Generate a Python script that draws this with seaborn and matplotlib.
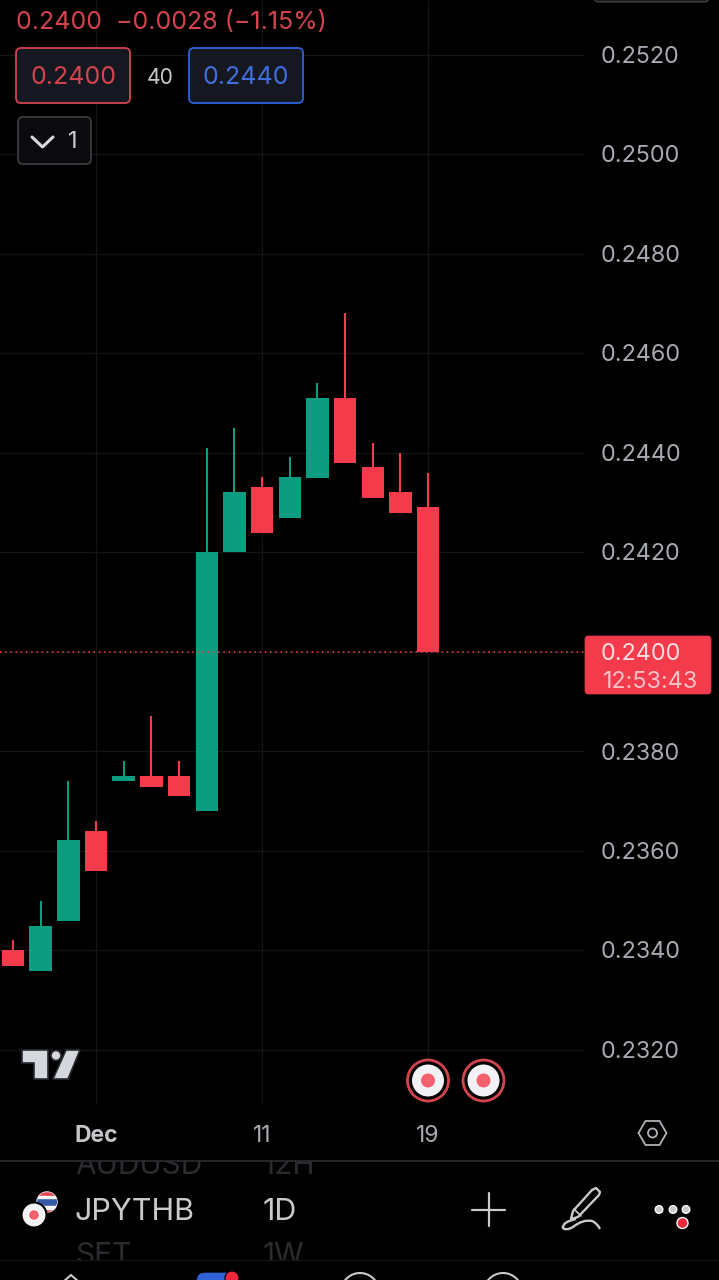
import matplotlib

matplotlib.use("Agg")
import matplotlib.pyplot as plt
import pandas as pd
import seaborn as sns
from matplotlib.patches import Circle, FancyBboxPatch, PathPatch, Polygon, Rectangle
from matplotlib.path import Path

# candles
opens = [0.23402, 0.23359, 0.23460, 0.23641, 0.23740, 0.23751, 0.23751, 0.23680,
         0.24200, 0.24331, 0.24269, 0.24350, 0.24511, 0.24371, 0.24321, 0.24291]
highs = [0.23421, 0.23500, 0.23741, 0.23661, 0.23781, 0.23871, 0.23781, 0.24411,
         0.24450, 0.24352, 0.24391, 0.24540, 0.24681, 0.24421, 0.24401, 0.24360]
lows = [0.23369, 0.23359, 0.23460, 0.23560, 0.23740, 0.23729, 0.23710, 0.23680,
        0.24200, 0.24240, 0.24269, 0.24350, 0.24380, 0.24309, 0.24280, 0.24000]
closes = [0.23369, 0.23450, 0.23622, 0.23560, 0.23751, 0.23729, 0.23710, 0.24202,
          0.24321, 0.24240, 0.24352, 0.24511, 0.24380, 0.24309, 0.24280, 0.24000]
price_ticks = [0.2320, 0.2340, 0.2360, 0.2380, 0.2400, 0.2420, 0.2440, 0.2460, 0.2480, 0.2500, 0.2520]
date_ticks = {3: "Dec", 9: "11", 15: "19"}

GREEN = "#0c9c80"
RED = "#f43b4c"
DIM_RED = "#d4444f"
LABEL = "#a8abb2"
ICON = "#c8c9cc"
FADED = "#2b2c30"
FONT = "Inter"

sns.set_theme(style="dark", rc={"figure.facecolor": "black", "axes.facecolor": "black"})
plt.rcParams["font.family"] = [FONT, "DejaVu Sans"]

df = pd.DataFrame({"pos": range(len(opens)), "open": opens, "high": highs, "low": lows, "close": closes})
df["bottom"] = df[["open", "close"]].min(axis=1)
df["height"] = (df["close"] - df["open"]).abs()
df["up"] = df["close"] >= df["open"]

fig = plt.figure(figsize=(7.19, 12.8), dpi=100)
ax = fig.add_axes([0, 1 - 1105 / 1280, 585 / 719, 1105 / 1280])

for val in price_ticks:
    ax.axhline(val, color="#131417", lw=1.0, zorder=0)
for pos in date_ticks:
    ax.axvline(pos, color="#131417", lw=1.0, zorder=0)

for up, color in [(True, GREEN), (False, RED)]:
    part = df[df["up"] == up]
    ax.vlines(part["pos"], part["low"], part["high"], color=color, lw=1.5, zorder=2)
    sns.barplot(data=part, x="pos", y="height", bottom=part["bottom"].values, native_scale=True,
                color=color, saturation=1, width=0.81, errorbar=None, ax=ax, zorder=3, linewidth=0)

ax.axhline(closes[-1], color=RED, lw=1.1, ls=(0, (1, 2.4)), zorder=4)
ax.set_xlim(-0.47, 20.67)
ax.set_ylim(0.24 - 453 / 49750, 0.24 + 652 / 49750)
ax.set_xlabel("")
ax.set_ylabel("")
ax.set_xticks([])
ax.set_yticks([])
sns.despine(ax=ax, left=True, bottom=True)

# screen furniture around the chart, in pixels
ui = fig.add_axes([0, 0, 1, 1], facecolor="none")
ui.set_xlim(0, 719)
ui.set_ylim(1280, 0)
ui.axis("off")


def box(x, y, w, h, face, edge, lw=1.3, r=5, z=5):
    ui.add_patch(FancyBboxPatch((x + r, y + r), w - 2 * r, h - 2 * r, boxstyle=f"round,pad={r}",
                                fc=face, ec=edge, lw=lw, zorder=z))


def label(x, y, s, color=LABEL, size=16.8, ha="left", weight="normal", z=6):
    return ui.text(x, y + 1.5, s, color=color, fontsize=size, ha=ha, va="center", fontweight=weight, zorder=z)


# price axis
for val in price_ticks:
    y = 652 - (val - 0.24) * 49750
    if val != 0.24:
        label(601, y + 0.5, f"{val:.4f}")

# last price tag
box(585, 636, 126, 58, RED, RED, lw=0.5, r=3)
label(601, 652.5, "0.2400", color="#ffdde0")
label(603, 680.5, "12:53:43", color="#ffc2c8", size=16.8)

# header
box(594, -20, 115, 22, "#1a1b1f", "#3a3b40", lw=1.0)
label(16, 21, "0.2400  \u22120.0028 (\u22121.15%)", color=DIM_RED, size=18)
box(16, 48, 114, 55, "#151820", "#d4444f")
label(73, 76, "0.2400", color=DIM_RED, size=18, ha="center")
label(160, 76, "40", color="#c8c9cc", size=15.2, ha="center")
box(189, 48, 114, 55, "#151820", "#2f62d8")
label(246, 76, "0.2440", color="#3f6fdf", size=18, ha="center")
box(18, 117, 73, 47, "#0b0b0d", "#3a3b40")
ui.plot([32, 42.5, 53], [137, 147, 137], color="#d8d9dc", lw=2.2, zorder=6)
label(73, 141, "1", color="#c8c9cc", size=17, ha="center")

# logo
logo = "#d6d7dc"
logo_edge = "#2a2c33"
ui.add_patch(Polygon([(22, 1050), (48, 1050), (48, 1079), (34, 1079), (34, 1063), (22, 1063)],
                     fc=logo, ec=logo_edge, lw=1.2, zorder=6))
ui.add_patch(Circle((56, 1055.5), 5, fc=logo, ec=logo_edge, lw=1.2, zorder=6))
ui.add_patch(Polygon([(66, 1050), (80, 1050), (68, 1079), (53, 1079)], fc=logo, ec=logo_edge, lw=1.2, zorder=6))

# event markers
for x in (428, 483.5):
    ui.add_patch(Circle((x, 1080.5), 20.5, fc="black", ec="#d4444f", lw=2, zorder=6))
    ui.add_patch(Circle((x, 1080.5), 16, fc="#f2f2f6", ec="none", zorder=6))
    ui.add_patch(Circle((x, 1080.5), 7, fc="#f4606c", ec="none", zorder=7))

# date axis
for pos, s in date_ticks.items():
    x = 13 + 27.67 * pos
    label(x, 1135, s, color="#c4c5c9" if s == "Dec" else LABEL, size=16.5, ha="center",
          weight="bold" if s == "Dec" else "normal")
ui.add_patch(Polygon([(638.5, 1133), (645.5, 1121), (659.5, 1121), (666.5, 1133), (659.5, 1145), (645.5, 1145)],
                     fc="none", ec="#b0b2b8", lw=1.3, zorder=6))
ui.add_patch(Circle((652.5, 1133), 4.5, fc="none", ec="#b0b2b8", lw=1.3, zorder=6))

# toolbar, with rows of the list fading behind it
label(75, 1165, "AUDUSD", color=FADED, size=21.5, z=2)
label(263, 1165, "12H", color=FADED, size=21.5, z=2)
label(75, 1255, "SET", color=FADED, size=21.5, z=2)
label(263, 1255, "1W", color=FADED, size=21.5, z=2)
ui.add_patch(Rectangle((0, 1146), 719, 14.5, fc="black", ec="none", zorder=3))
ui.add_patch(Rectangle((0, 1259.5), 719, 21, fc="black", ec="none", zorder=3))
ui.plot([0, 719], [1160.5, 1160.5], color="#2c2d31", lw=1.2, zorder=4)
ui.plot([0, 719], [1259.5, 1259.5], color="#141416", lw=1.0, zorder=4)

flag = Circle((47, 1202), 10, fc="#f0f0f4", zorder=5)
ui.add_patch(flag)
for y0, h, c in [(1191, 4.5, "#e0444f"), (1198, 8, "#3558a8"), (1208.5, 4, "#e0444f")]:
    stripe = Rectangle((36, y0), 22, h, fc=c, zorder=6)
    ui.add_patch(stripe)
    stripe.set_clip_path(flag)
ui.add_patch(Circle((34, 1215), 12.5, fc="#f3f3f6", ec="black", lw=1.5, zorder=7))
ui.add_patch(Circle((34, 1215), 5.5, fc="#f4606c", zorder=8))
label(74, 1211, "JPYTHB", color=ICON, size=22)
label(280, 1211, "1D", color=ICON, size=22, ha="center")
ui.plot([489, 489], [1193, 1226], color=ICON, lw=1.6, zorder=6)
ui.plot([472, 505], [1209.5, 1209.5], color=ICON, lw=1.6, zorder=6)

pencil = [(592, 1190), (596, 1188), (600, 1192), (599, 1195), (578, 1217), (571, 1219), (573, 1211), (592, 1190)]
ui.plot(*zip(*pencil), color=ICON, lw=1.7, zorder=6, solid_joinstyle="round")
ui.plot([574, 581], [1209, 1216], color=ICON, lw=1.2, zorder=6)
curve = Path([(576, 1219), (562, 1222), (563, 1228), (566, 1231), (573, 1227), (583, 1219), (592, 1221), (597, 1223), (600, 1229)],
             [Path.MOVETO, Path.CURVE3, Path.CURVE3, Path.CURVE3, Path.CURVE3, Path.CURVE3, Path.CURVE3, Path.CURVE3, Path.CURVE3])
ui.add_patch(PathPatch(curve, fc="none", ec=ICON, lw=1.7, zorder=6))
for x in (659, 673, 686):
    ui.add_patch(Circle((x, 1209.5), 3.8, fc=ICON, zorder=6))
ui.add_patch(Circle((682.5, 1223), 5.5, fc="#f0283c", zorder=7))

# bottom nav tips
ui.add_patch(Polygon([(63, 1282), (71, 1275), (79, 1282)], fc="none", ec=ICON, lw=1.5, zorder=6))
box(197, 1273, 40, 30, "#2f62d8", "#2f62d8", lw=0.5, r=8, z=6)
ui.add_patch(Circle((232, 1278), 7, fc="#f0283c", ec="black", lw=0.8, zorder=7))
for x in (360, 503):
    ui.add_patch(Circle((x, 1292), 19, fc="none", ec=ICON, lw=1.5, zorder=6))

fig.savefig("out.png", dpi=100, facecolor="black")
